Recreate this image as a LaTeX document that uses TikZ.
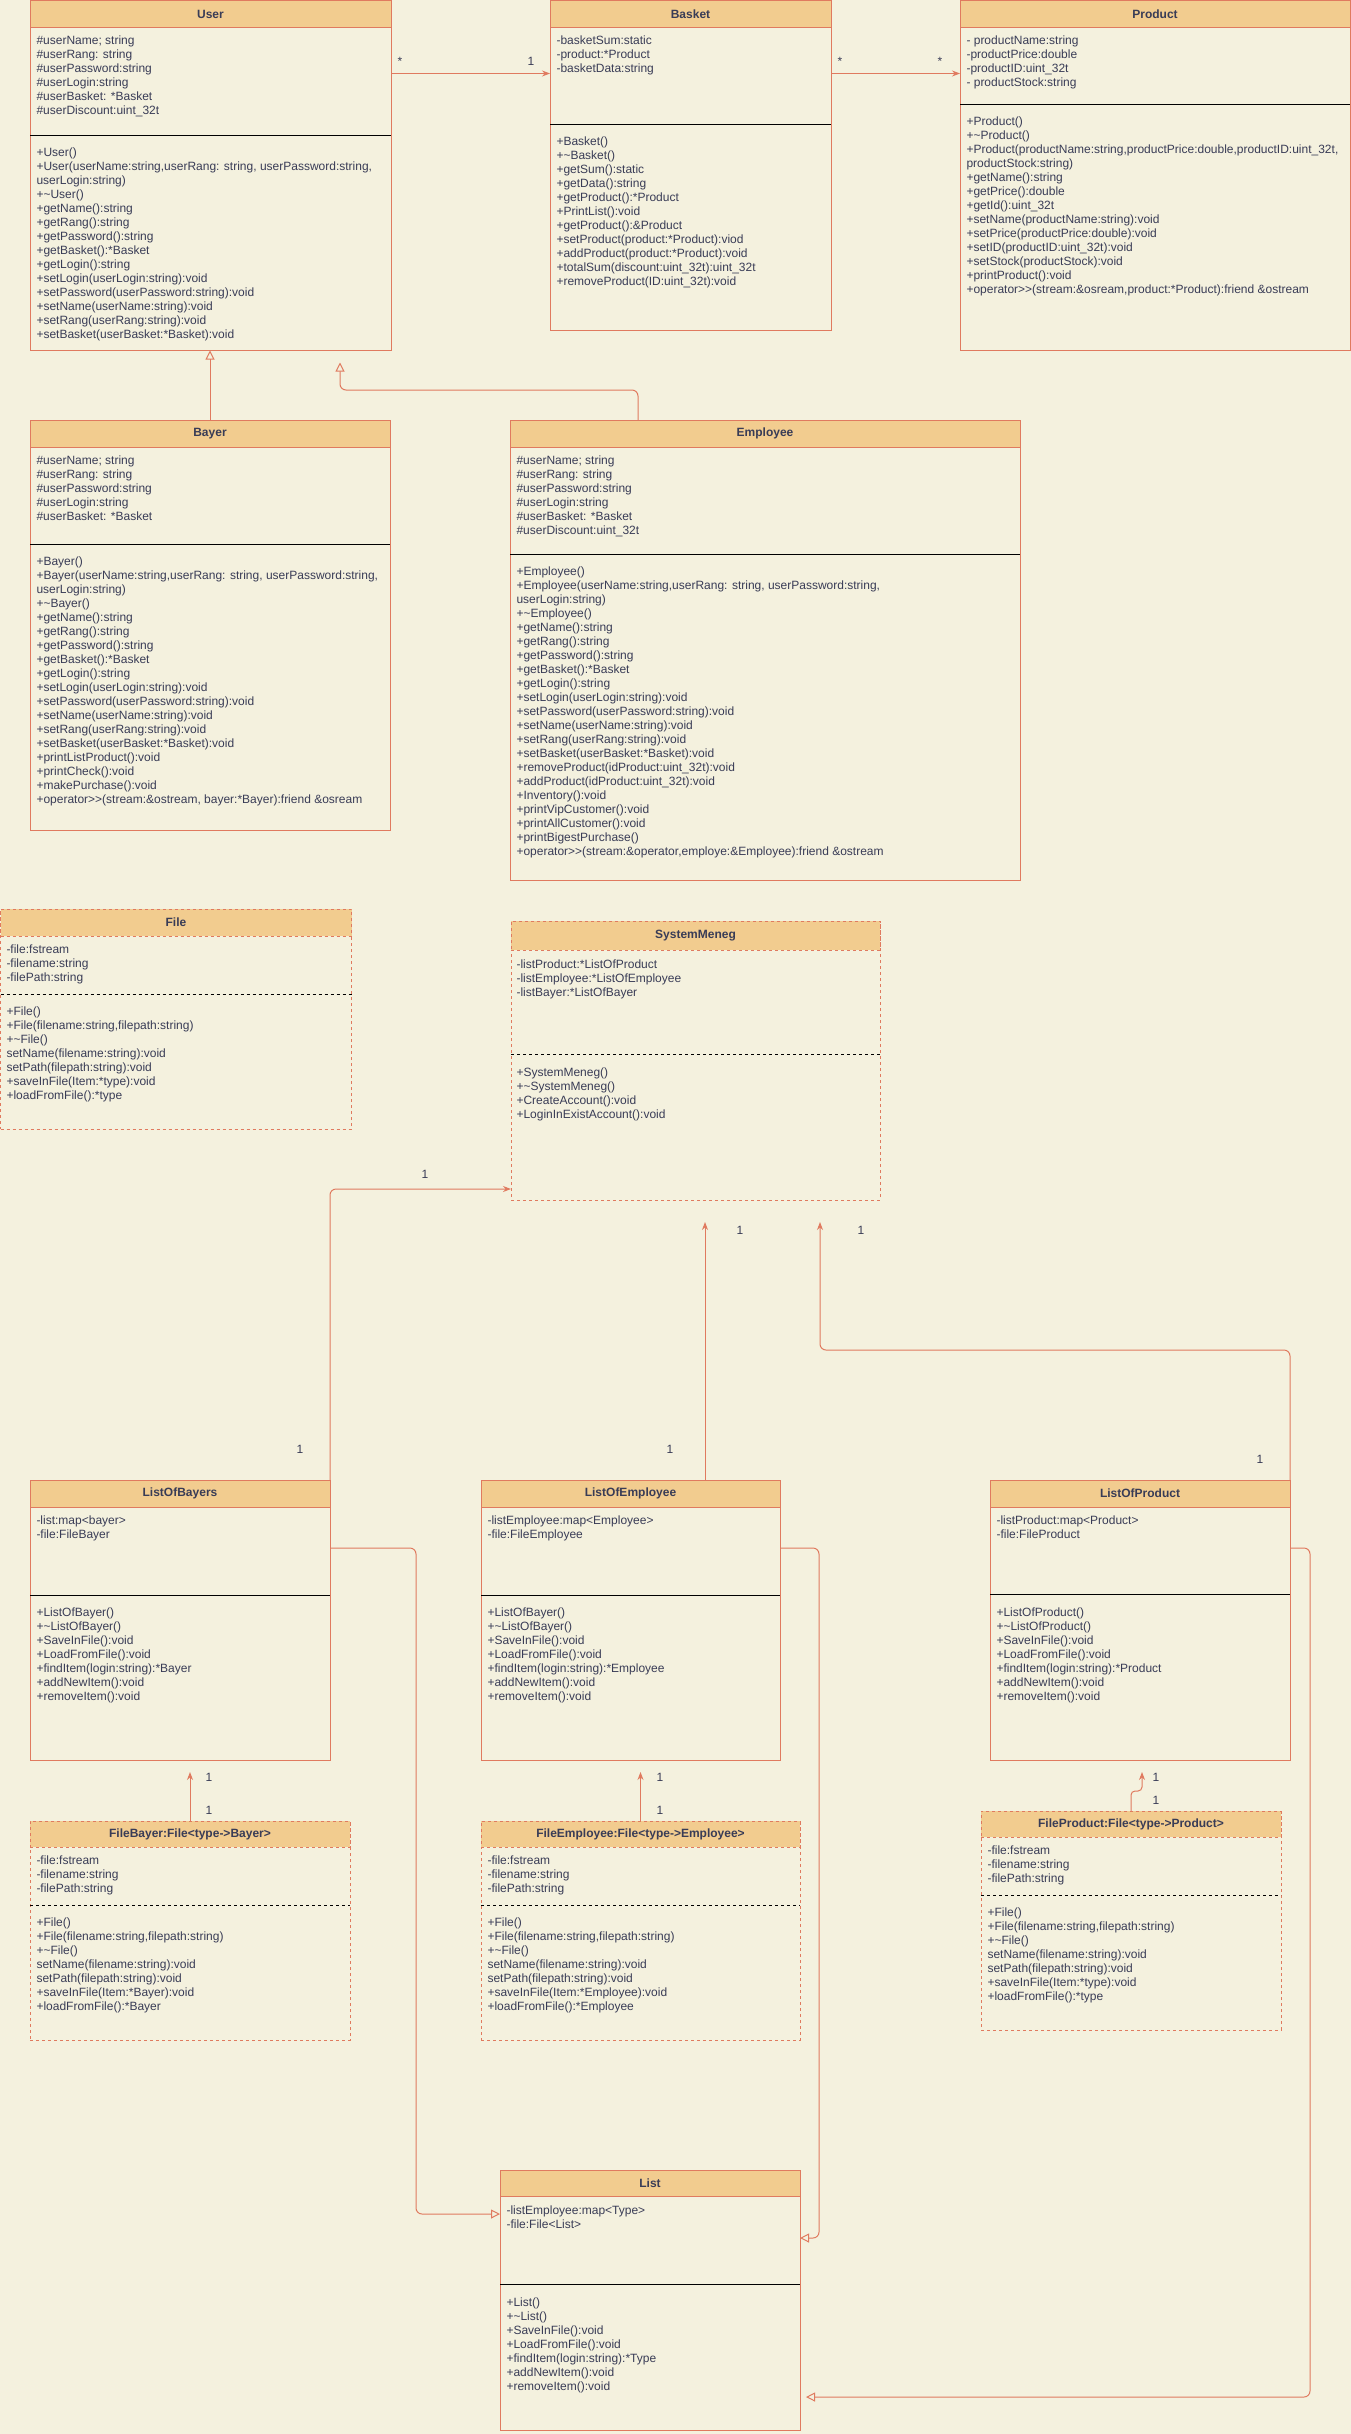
\documentclass[tikz,border=0pt]{standalone}
\usepackage{fontspec}
\setmainfont{Liberation Sans}
\usetikzlibrary{arrows.meta}

\definecolor{sfondo}{HTML}{F4F1DE}
\definecolor{arancio}{HTML}{F2CC8F}
\definecolor{bordo}{HTML}{E07A5F}
\definecolor{inchiostro}{HTML}{393C56}

\begin{document}
\begin{tikzpicture}[x=1pt, y=-1pt, line width=1pt, >={Stealth[length=8pt, width=6pt]}]
	\tikzset{classe/.style={rectangle, draw=bordo, fill=sfondo, anchor=north west, inner sep=0pt, outer sep=0pt},
		titolo/.style={rectangle, draw=bordo, fill=arancio, anchor=north west, inner sep=0pt, outer sep=0pt, minimum height=27pt, text=inchiostro, font=\fontsize{12}{14}\selectfont\bfseries},
		voce/.style={anchor=north west, align=left, inner sep=0pt, text=inchiostro, font=\fontsize{12}{14}\selectfont},
		molt/.style={anchor=base, inner sep=0pt, text=inchiostro, font=\fontsize{12}{14}\selectfont},
		tratto/.style={dash pattern=on 3pt off 3pt},
		assoc/.style={draw=bordo, ->},
		eredita/.style={draw=bordo, -{Triangle[open, length=9pt, width=9pt]}}}
	
	\useasboundingbox[fill=sfondo] (0,0) rectangle (1351,2434);
	
	% User
	\node[classe, minimum width=361pt, minimum height=350pt] (U) at (30,0.5) {};
	\node[titolo, minimum width=361pt] (Ut) at (U.north west) {User};
	\draw (30,135) -- (391,135);
	\node[voce] (Ua) at (36,34) {\strut\#userName; string\\\#userRang: string\\\#userPassword:string\\\#userLogin:string\\\#userBasket: *Basket\\\#userDiscount:uint\_32t};
	\node[voce] (Um) at (36,146) {\strut+User()\\+User(userName:string,userRang: string, userPassword:string,\\userLogin:string)\\+\textasciitilde User()\\+getName():string\\+getRang():string\\+getPassword():string\\+getBasket():*Basket\\+getLogin():string\\+setLogin(userLogin:string):void\\+setPassword(userPassword:string):void\\+setName(userName:string):void\\+setRang(userRang:string):void\\+setBasket(userBasket:*Basket):void};
	
	% Basket
	\node[classe, minimum width=281pt, minimum height=330pt] (B) at (550,0.5) {};
	\node[titolo, minimum width=281pt] (Bt) at (B.north west) {Basket};
	\draw (550,124) -- (831,124);
	\node[voce] (Ba) at (556,34) {\strut-basketSum:static\\-product:*Product\\-basketData:string};
	\node[voce] (Bm) at (556,135) {\strut+Basket()\\+\textasciitilde Basket()\\+getSum():static\\+getData():string\\+getProduct():*Product\\+PrintList():void\\+getProduct():\&Product\\+setProduct(product:*Product):viod\\+addProduct(product:*Product):void\\+totalSum(discount:uint\_32t):uint\_32t\\+removeProduct(ID:uint\_32t):void};
	
	% Product
	\node[classe, minimum width=390pt, minimum height=350pt] (P) at (960,0.5) {};
	\node[titolo, minimum width=390pt] (Pt) at (P.north west) {Product};
	\draw (960,104) -- (1350,104);
	\node[voce] (Pa) at (966,34) {\strut- productName:string\\-productPrice:double\\-productID:uint\_32t\\- productStock:string};
	\node[voce] (Pm) at (966,115) {\strut+Product()\\+\textasciitilde Product()\\+Product(productName:string,productPrice:double,productID:uint\_32t,\\productStock:string)\\+getName():string\\+getPrice():double\\+getId():uint\_32t\\+setName(productName:string):void\\+setPrice(productPrice:double):void\\+setID(productID:uint\_32t):void\\+setStock(productStock):void\\+printProduct():void\\+operator>{}>(stream:\&osream,product:*Product):friend \&ostream};
	
	% Bayer
	\node[classe, minimum width=360pt, minimum height=410pt] (BY) at (30,420) {};
	\node[titolo, minimum width=360pt] (BYt) at (BY.north west) {Bayer};
	\draw (30,544) -- (390,544);
	\node[voce] (BYa) at (36,454) {\strut\#userName; string\\\#userRang: string\\\#userPassword:string\\\#userLogin:string\\\#userBasket: *Basket};
	\node[voce] (BYm) at (36,555) {\strut+Bayer()\\+Bayer(userName:string,userRang: string, userPassword:string,\\userLogin:string)\\+\textasciitilde Bayer()\\+getName():string\\+getRang():string\\+getPassword():string\\+getBasket():*Basket\\+getLogin():string\\+setLogin(userLogin:string):void\\+setPassword(userPassword:string):void\\+setName(userName:string):void\\+setRang(userRang:string):void\\+setBasket(userBasket:*Basket):void\\+printListProduct():void\\+printCheck():void\\+makePurchase():void\\+operator>{}>(stream:\&ostream, bayer:*Bayer):friend \&osream};
	
	% Employee
	\node[classe, minimum width=510pt, minimum height=460pt] (E) at (510,420) {};
	\node[titolo, minimum width=510pt] (Et) at (E.north west) {Employee};
	\draw (510,554) -- (1020,554);
	\node[voce] (Ea) at (516,454) {\strut\#userName; string\\\#userRang: string\\\#userPassword:string\\\#userLogin:string\\\#userBasket: *Basket\\\#userDiscount:uint\_32t};
	\node[voce] (Em) at (516,565) {\strut+Employee()\\+Employee(userName:string,userRang: string, userPassword:string,\\userLogin:string)\\+\textasciitilde Employee()\\+getName():string\\+getRang():string\\+getPassword():string\\+getBasket():*Basket\\+getLogin():string\\+setLogin(userLogin:string):void\\+setPassword(userPassword:string):void\\+setName(userName:string):void\\+setRang(userRang:string):void\\+setBasket(userBasket:*Basket):void\\+removeProduct(idProduct:uint\_32t):void\\+addProduct(idProduct:uint\_32t):void\\+Inventory():void\\+printVipCustomer():void\\+printAllCustomer():void\\+printBigestPurchase()\\+operator>{}>(stream:\&operator,employe:\&Employee):friend \&ostream};
	
	% File
	\node[classe, tratto, minimum width=351pt, minimum height=220pt] (F) at (0.5,909) {};
	\node[titolo, tratto, minimum width=351pt] (Ft) at (F.north west) {File};
	\draw[tratto] (0.5,994) -- (351.5,994);
	\node[voce] (Fa) at (6,943) {\strut-file:fstream\\-filename:string\\-filePath:string};
	\node[voce] (Fm) at (6,1005) {\strut+File()\\+File(filename:string,filepath:string)\\+\textasciitilde File()\\setName(filename:string):void\\setPath(filepath:string):void\\+saveInFile(Item:*type):void\\+loadFromFile():*type};
	
	% SystemMeneg
	\node[classe, tratto, minimum width=369pt, minimum height=279pt] (SM) at (511,921) {};
	\node[titolo, tratto, minimum width=369pt, minimum height=29pt] (SMt) at (SM.north west) {SystemMeneg};
	\draw[tratto] (511,1054) -- (880,1054);
	\node[voce] (SMa) at (516,958) {\strut-listProduct:*ListOfProduct\\-listEmployee:*ListOfEmployee\\-listBayer:*ListOfBayer};
	\node[voce] (SMm) at (516,1066) {\strut+SystemMeneg()\\+\textasciitilde SystemMeneg()\\+CreateAccount():void\\+LoginInExistAccount():void};
	
	% ListOfBayers
	\node[classe, minimum width=300pt, minimum height=280pt] (LB) at (30,1480) {};
	\node[titolo, minimum width=300pt] (LBt) at (LB.north west) {ListOfBayers};
	\draw (30,1595) -- (330,1595);
	\node[voce] (LBa) at (36,1514) {\strut-list:map<bayer>\\-file:FileBayer};
	\node[voce] (LBm) at (36,1606) {\strut+ListOfBayer()\\+\textasciitilde ListOfBayer()\\+SaveInFile():void\\+LoadFromFile():void\\+findItem(login:string):*Bayer\\+addNewItem():void\\+removeItem():void};
	
	% ListOfEmployee
	\node[classe, minimum width=299pt, minimum height=280pt] (LE) at (481,1480) {};
	\node[titolo, minimum width=299pt] (LEt) at (LE.north west) {ListOfEmployee};
	\draw (481,1595) -- (780,1595);
	\node[voce] (LEa) at (487,1514) {\strut-listEmployee:map<Employee>\\-file:FileEmployee};
	\node[voce] (LEm) at (487,1606) {\strut+ListOfBayer()\\+\textasciitilde ListOfBayer()\\+SaveInFile():void\\+LoadFromFile():void\\+findItem(login:string):*Employee\\+addNewItem():void\\+removeItem():void};
	
	% ListOfProduct
	\node[classe, minimum width=300pt, minimum height=280pt] (LP) at (990,1480) {};
	\node[titolo, minimum width=300pt] (LPt) at (LP.north west) {ListOfProduct};
	\draw (990,1594) -- (1290,1594);
	\node[voce] (LPa) at (996,1514) {\strut-listProduct:map<Product>\\-file:FileProduct};
	\node[voce] (LPm) at (996,1606) {\strut+ListOfProduct()\\+\textasciitilde ListOfProduct()\\+SaveInFile():void\\+LoadFromFile():void\\+findItem(login:string):*Product\\+addNewItem():void\\+removeItem():void};
	
	% FileBayer
	\node[classe, tratto, minimum width=320pt, minimum height=219pt] (FB) at (30,1821) {};
	\node[titolo, tratto, minimum width=320pt, minimum height=26pt] (FBt) at (FB.north west) {FileBayer:File<type->Bayer>};
	\draw[tratto] (30,1905) -- (350,1905);
	\node[voce] (FBa) at (36,1854) {\strut-file:fstream\\-filename:string\\-filePath:string};
	\node[voce] (FBm) at (36,1916) {\strut+File()\\+File(filename:string,filepath:string)\\+\textasciitilde File()\\setName(filename:string):void\\setPath(filepath:string):void\\+saveInFile(Item:*Bayer):void\\+loadFromFile():*Bayer};
	
	% FileEmployee
	\node[classe, tratto, minimum width=319pt, minimum height=219pt] (FE) at (481,1821) {};
	\node[titolo, tratto, minimum width=319pt, minimum height=26pt] (FEt) at (FE.north west) {FileEmployee:File<type->Employee>};
	\draw[tratto] (481,1905) -- (800,1905);
	\node[voce] (FEa) at (487,1854) {\strut-file:fstream\\-filename:string\\-filePath:string};
	\node[voce] (FEm) at (487,1916) {\strut+File()\\+File(filename:string,filepath:string)\\+\textasciitilde File()\\setName(filename:string):void\\setPath(filepath:string):void\\+saveInFile(Item:*Employee):void\\+loadFromFile():*Employee};
	
	% FileProduct
	\node[classe, tratto, minimum width=300pt, minimum height=219pt] (FP) at (981,1811) {};
	\node[titolo, tratto, minimum width=300pt, minimum height=26pt] (FPt) at (FP.north west) {FileProduct:File<type->Product>};
	\draw[tratto] (981,1895) -- (1281,1895);
	\node[voce] (FPa) at (987,1844) {\strut-file:fstream\\-filename:string\\-filePath:string};
	\node[voce] (FPm) at (987,1906) {\strut+File()\\+File(filename:string,filepath:string)\\+\textasciitilde File()\\setName(filename:string):void\\setPath(filepath:string):void\\+saveInFile(Item:*type):void\\+loadFromFile():*type};
	
	% List
	\node[classe, minimum width=300pt, minimum height=260pt] (L) at (500,2170) {};
	\node[titolo, minimum width=300pt, minimum height=26pt] (Lt) at (L.north west) {List};
	\draw (500,2284) -- (800,2284);
	\node[voce] (La) at (506,2204) {\strut-listEmployee:map<Type>\\-file:File<List>};
	\node[voce] (Lm) at (506,2296) {\strut+List()\\+\textasciitilde List()\\+SaveInFile():void\\+LoadFromFile():void\\+findItem(login:string):*Type\\+addNewItem():void\\+removeItem():void};
	
	% associazioni
	\draw[assoc] ([yshift=-73pt]U.north east) -- ([yshift=-73pt]B.north west);
	\draw[assoc] ([yshift=-73pt]B.north east) -- ([yshift=-73pt]P.north west);
	\draw[assoc, rounded corners=6pt] (LB.north east) |- ([yshift=11pt]SM.south west);
	\draw[assoc] ([xshift=224pt]LE.north west) -- ([xshift=194pt, yshift=-22pt]SM.south west);
	\draw[assoc, rounded corners=6pt] (LP.north east) -- ++(0,-130) -| ([xshift=309pt, yshift=-22pt]SM.south west);
	\draw[assoc] (FB.north) -- ([yshift=-12pt]FB.north |- LB.south);
	\draw[assoc] (FE.north) -- ([yshift=-12pt]FE.north |- LE.south);
	\draw[assoc, rounded corners=4pt] (FP.north) -- ++(0,-20) -- ++(11,0) -- ([xshift=152pt, yshift=-12pt]LP.south west);
	
	% ereditarieta
	\draw[eredita] (BY.north) -- (BY.north |- U.south);
	\draw[eredita, rounded corners=6pt] ([xshift=128pt]E.north west) -- ++(0,-30) -| ([xshift=310pt, yshift=-12pt]U.south west);
	\draw[eredita, rounded corners=6pt] ([yshift=-68pt]LB.north east) -- ++(86,0) |- ([yshift=-44pt]L.north west);
	\draw[eredita, rounded corners=6pt] ([yshift=-68pt]LE.north east) -- ++(39,0) |- ([yshift=-68pt]L.north east);
	\draw[eredita, rounded corners=6pt] ([yshift=-68pt]LP.north east) -- ++(20,0) |- ([xshift=6pt, yshift=-227pt]L.north east);
	
	% molteplicita
	\node[molt] (m1) at (400,65) {*};
	\node[molt] (m2) at (531,65) {1};
	\node[molt] (m3) at (840,65) {*};
	\node[molt] (m4) at (940,65) {*};
	\node[molt] (m5) at (425,1178) {1};
	\node[molt] (m6) at (300,1453) {1};
	\node[molt] (m7) at (740,1234) {1};
	\node[molt] (m8) at (670,1453) {1};
	\node[molt] (m9) at (861,1234) {1};
	\node[molt] (m10) at (1260,1463) {1};
	\node[molt] (m11) at (209,1781) {1};
	\node[molt] (m12) at (209,1814) {1};
	\node[molt] (m13) at (660,1781) {1};
	\node[molt] (m14) at (660,1814) {1};
	\node[molt] (m15) at (1156,1781) {1};
	\node[molt] (m16) at (1156,1804) {1};
\end{tikzpicture}
\end{document}
